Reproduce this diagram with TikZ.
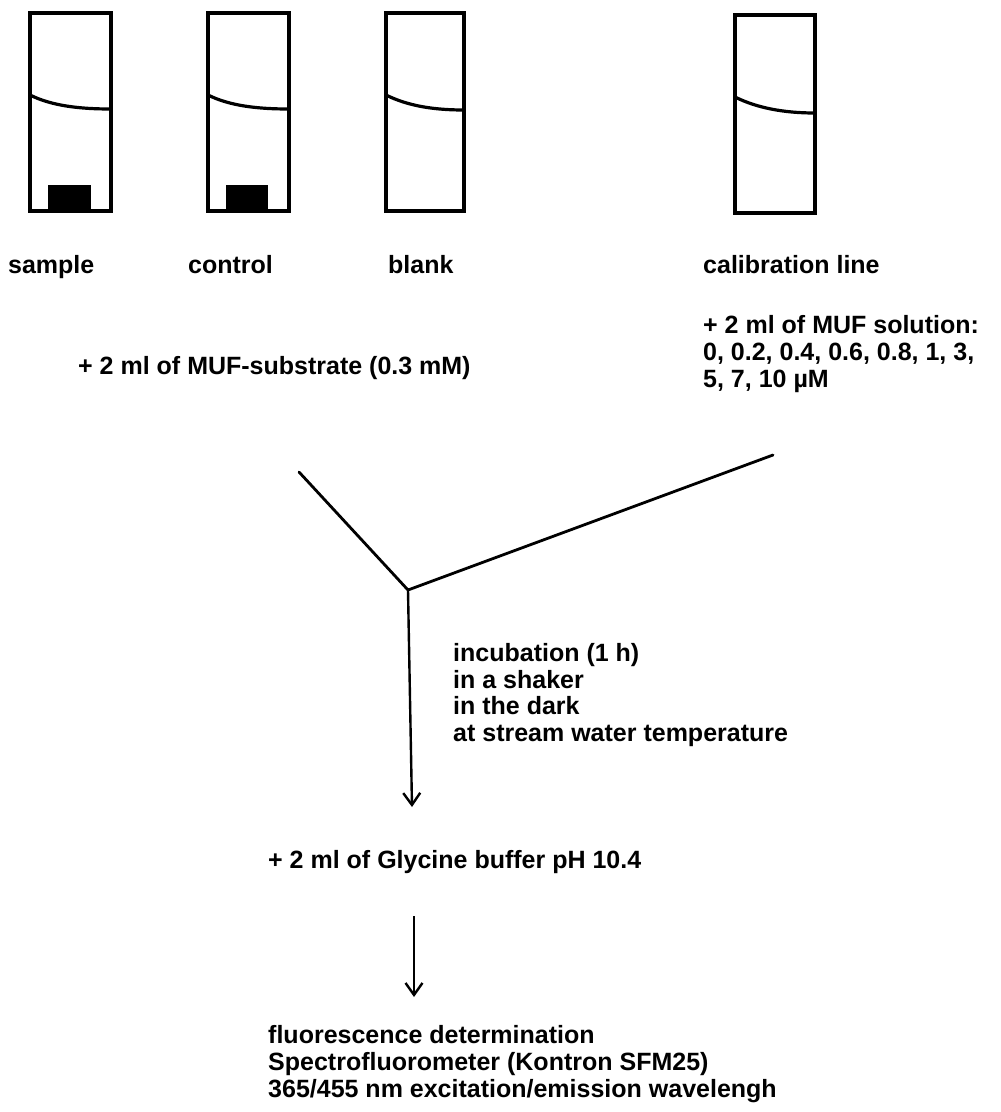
\documentclass[tikz,border=0pt]{standalone}
\usepackage{fontspec}
\setmainfont{Liberation Sans}
\usetikzlibrary{arrows.meta}
\begin{document}
\begin{tikzpicture}[x=1pt,y=-1pt,
  tube/.style={line width=3.6pt, line join=miter},
  menis/.style={line width=3.2pt},
  solid block/.style={fill=black, draw=none},
  lbl/.style={anchor=base west, inner sep=0pt, font=\bfseries\fontsize{25}{27}\selectfont},
  branch/.style={line width=2.8pt, line cap=round},
  arr/.style={line width=2.4pt, -{Straight Barb[length=12pt,width=17pt]}}]
\useasboundingbox (0,0) rectangle (1001,1112);
% tubes
\draw[tube] (30,13) rectangle (111,211);
\draw[menis] (30,95) .. controls (52,106) and (80,109) .. (111,109);
\fill[solid block] (48,185) rectangle (91,211);
\draw[tube] (208,13) rectangle (289,211);
\draw[menis] (208,95) .. controls (230,106) and (258,109) .. (289,109);
\fill[solid block] (226,185) rectangle (268,211);
\draw[tube] (386,13) rectangle (464,211);
\draw[menis] (386,95) .. controls (408,106) and (434,110) .. (464,110);
\draw[tube] (735,15) rectangle (815,213);
\draw[menis] (735,97) .. controls (757,108) and (784,113) .. (815,113);
% labels
\node[lbl] (sample) at (8,273) {sample};
\node[lbl] (control) at (188,273) {control};
\node[lbl] (blank) at (388,273) {blank};
\node[lbl] (calib) at (703,273) {calibration line};
\node[lbl] (sol1) at (703,333) {+ 2 ml of MUF solution:};
\node[lbl] (sol2) at (703,360) {0, 0.2, 0.4, 0.6, 0.8, 1, 3,};
\node[lbl] (sol3) at (703,387) {5, 7, 10 µM};
\node[lbl] (subst) at (78,374) {+ 2 ml of MUF-substrate (0.3 mM)};
% branches
\coordinate (L) at (299,472);
\coordinate (R) at (773,455);
\coordinate (J) at (408,590);
\coordinate (T1) at (412,807);
\draw[branch] (L) -- (J) -- (R);
\draw[arr] (J) -- (T1);
\node[lbl] (inc1) at (453,661) {incubation (1 h)};
\node[lbl] (inc2) at (453,688) {in a shaker};
\node[lbl] (inc3) at (453,714) {in the dark};
\node[lbl] (inc4) at (453,741) {at stream water temperature};
\node[lbl] (gly) at (268,868) {+ 2 ml of Glycine buffer pH 10.4};
\coordinate (S2) at (414,916);
\coordinate (T2) at (414,997);
\draw[arr] (S2) -- (T2);
\node[lbl] (fl1) at (268,1043) {fluorescence determination};
\node[lbl] (fl2) at (268,1070) {Spectrofluorometer (Kontron SFM25)};
\node[lbl] (fl3) at (268,1097) {365/455 nm excitation/emission wavelengh};
\end{tikzpicture}
\end{document}
